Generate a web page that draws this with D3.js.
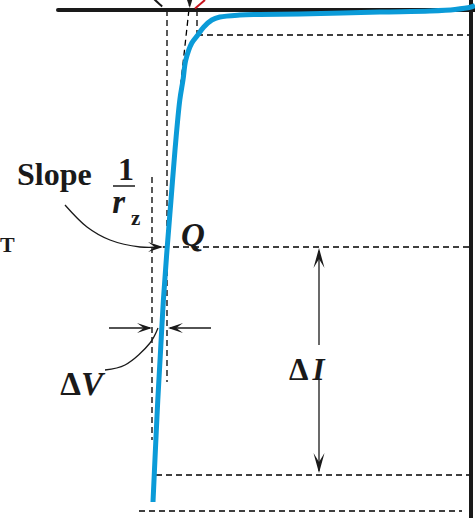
<!DOCTYPE html>
<html>
<head>
<meta charset="utf-8">
<script src="https://cdn.jsdelivr.net/npm/d3@7"></script>
<style>
  html, body { margin: 0; padding: 0; background: #fff; }
  svg { display: block; }
  text { font-family: "Liberation Serif", "DejaVu Serif", serif; font-weight: bold; fill: #1a1a1a; }
</style>
</head>
<body>
<script>
// ---- Data (reverse voltage in V, reverse current in mA; arbitrary units) ----
const curveVoltage = [0.1, 0, -0.4, -1.03, -2.28, -4.28, -5.28, -5.78, -6.28, -6.48, -6.68, -6.83, -6.98, -7.13, -7.2, -7.28, -7.4, -7.5, -7.6, -7.69, -7.76, -7.83, -7.89, -7.95];
const curveCurrent = [0.45, 0.3, 0.05, -0.1, -0.2, -0.4, -0.45, -0.5, -0.7, -1.0, -1.7, -2.5, -3.3, -5.0, -7.0, -9.0, -14, -19, -24, -29, -34, -39, -44, -49.2];

const qPoint = { v: -7.6, i: -23.7 };       // Q operating point (VZ, IZT)
const kneePoint = { v: -6.85, i: -2.5 };    // knee (VZK, IZK)
const deltaV = [-7.975, -7.6];              // ΔV bounds
const deltaI = [-23.7, -46.5];              // ΔI bounds
const iMax = -50.1;                          // lower dashed level
const tangentV = [-7.025, -7.3];
const tangentI = [1.0, -9.0];
const labels = ["Slope", "1", "r", "z", "Q", "Δ", "V", "I", "T"];

// ---- Scales ----
const W = 475, H = 520;
const x = d3.scaleLinear().domain([-12, 0]).range([-9, 471]);
const y = d3.scaleLinear().domain([0, -50]).range([10, 510]);

const svg = d3.select("body").append("svg").attr("width", W).attr("height", H);

const ink = "#1a1a1a";
function dashed(v1, i1, v2, i2) {
  svg.append("line")
    .attr("x1", x(v1)).attr("y1", y(i1)).attr("x2", x(v2)).attr("y2", y(i2))
    .attr("stroke", "#000").attr("stroke-width", 1.3).attr("stroke-dasharray", "6,4");
}
function arrowHead(px, py, angle, len, half) {
  const p = d3.path();
  p.moveTo(0, 0);
  p.lineTo(-len, -half);
  p.lineTo(-len * 0.55, 0);
  p.lineTo(-len, half);
  p.closePath();
  svg.append("path").attr("d", p.toString())
    .attr("transform", `translate(${px},${py}) rotate(${angle})`)
    .attr("fill", ink);
}

// ---- Dashed guides ----
dashed(qPoint.v, 0, qPoint.v, -37.2);
dashed(kneePoint.v, 0, kneePoint.v, kneePoint.i);
dashed(kneePoint.v, kneePoint.i, 0, kneePoint.i);
dashed(tangentV[0], tangentI[0], tangentV[1], tangentI[1]);
dashed(deltaV[0], -16.7, deltaV[0], -43);
dashed(-7.7, qPoint.i, 0, qPoint.i);
dashed(-7.875, deltaI[1], 0, deltaI[1]);
dashed(-8.3, iMax, -0.225, iMax);

// ---- Axes ----
svg.append("line").attr("x1", x(-10.325)).attr("x2", x(0.1)).attr("y1", y(0)).attr("y2", y(0))
  .attr("stroke", ink).attr("stroke-width", 4).attr("stroke-linecap", "round");
svg.append("line").attr("x1", x(0)).attr("x2", x(0)).attr("y1", y(1)).attr("y2", y(-50.8))
  .attr("stroke", ink).attr("stroke-width", 4);

// ---- Partial marks at top edge ----
svg.append("path").attr("d", d3.line().curve(d3.curveBasis)([[x(-7.95), y(1.2)], [x(-7.82), y(0.7)], [x(-7.72), y(0.35)]]))
  .attr("stroke", ink).attr("stroke-width", 2).attr("fill", "none");
svg.append("path").attr("d", d3.line()([[x(-7.1), y(1)], [x(-6.97), y(1)], [x(-7.03), y(0.2)]]) + "Z")
  .attr("fill", ink);
svg.append("line").attr("x1", x(-6.65)).attr("y1", y(1)).attr("x2", x(-6.9)).attr("y2", y(0.15))
  .attr("stroke", "#c8141e").attr("stroke-width", 2);

// ---- Characteristic curve ----
const pts = curveVoltage.map((v, k) => [x(v), y(curveCurrent[k])]);
svg.append("path")
  .attr("d", d3.line().curve(d3.curveCatmullRom.alpha(0.5))(pts))
  .attr("fill", "none").attr("stroke", "#0b9bd8").attr("stroke-width", 5)
  .attr("stroke-linecap", "butt");

// ---- Slope annotation ----
svg.append("text").attr("x", x(-11.35)).attr("y", y(-17.5)).attr("font-size", 32).text(labels[0]);
svg.append("text").attr("x", x(-8.625)).attr("y", y(-17)).attr("font-size", 32).attr("text-anchor", "middle").text(labels[1]);
svg.append("line").attr("x1", x(-8.95)).attr("x2", x(-8.4)).attr("y1", y(-17.6)).attr("y2", y(-17.6))
  .attr("stroke", ink).attr("stroke-width", 1.5);
svg.append("text").attr("x", x(-8.97)).attr("y", y(-20.3)).attr("font-size", 33).attr("font-style", "italic").text(labels[2]);
svg.append("text").attr("x", x(-8.5)).attr("y", y(-21.5)).attr("font-size", 21).text(labels[3]);
const slopeLeader = [[-10.15, -19.5], [-9.6, -21.7], [-9.025, -23], [-8.275, -23.7], [-7.75, -23.7]]
  .map(d => [x(d[0]), y(d[1])]);
svg.append("path").attr("d", d3.line().curve(d3.curveCatmullRom)(slopeLeader))
  .attr("fill", "none").attr("stroke", ink).attr("stroke-width", 1.3);
arrowHead(x(-7.7), y(qPoint.i), 0, 15, 5);

// ---- Q ----
svg.append("text").attr("x", x(-7.25)).attr("y", y(-23.6)).attr("font-size", 33).attr("font-style", "italic").text(labels[4]);

// ---- T (label at left edge) ----
svg.append("text").attr("x", 0).attr("y", y(-24.2)).attr("font-size", 22).text(labels[8]);

// ---- ΔV ----
const yDV = y(-31.8);
svg.append("line").attr("x1", x(-9.05)).attr("x2", x(deltaV[0]) - 2).attr("y1", yDV).attr("y2", yDV)
  .attr("stroke", ink).attr("stroke-width", 1.5);
arrowHead(x(deltaV[0]), yDV, 0, 15, 5);
svg.append("line").attr("x1", x(-6.5)).attr("x2", x(deltaV[1]) + 3).attr("y1", yDV).attr("y2", yDV)
  .attr("stroke", ink).attr("stroke-width", 1.5);
arrowHead(x(deltaV[1]) + 1, yDV, 180, 15, 5);
const dvLeader = [[-9.15, -36], [-8.65, -35.5], [-8.025, -33.3], [-7.825, -31.8]].map(d => [x(d[0]), y(d[1])]);
svg.append("path").attr("d", d3.line().curve(d3.curveCatmullRom)(dvLeader))
  .attr("fill", "none").attr("stroke", ink).attr("stroke-width", 1.3);
const tdv = svg.append("text").attr("x", x(-10.27)).attr("y", y(-38.5)).attr("font-size", 33);
tdv.append("tspan").text(labels[5]);
tdv.append("tspan").attr("font-style", "italic").text(labels[6]);

// ---- ΔI ----
const xDI = x(-3.8);
svg.append("line").attr("x1", xDI).attr("x2", xDI).attr("y1", y(deltaI[0]) + 4).attr("y2", y(-33.5))
  .attr("stroke", ink).attr("stroke-width", 1.3);
arrowHead(xDI, y(deltaI[0]) + 1, -90, 20, 5.5);
svg.append("line").attr("x1", xDI).attr("x2", xDI).attr("y1", y(-37)).attr("y2", y(deltaI[1]) - 4)
  .attr("stroke", ink).attr("stroke-width", 1.3);
arrowHead(xDI, y(deltaI[1]) - 2, 90, 20, 5.5);
const tdi = svg.append("text").attr("x", x(-4.55)).attr("y", y(-37)).attr("font-size", 31);
tdi.append("tspan").text(labels[5]);
tdi.append("tspan").attr("dx", 4).attr("font-style", "italic").text(labels[7]);
</script>
</body>
</html>
